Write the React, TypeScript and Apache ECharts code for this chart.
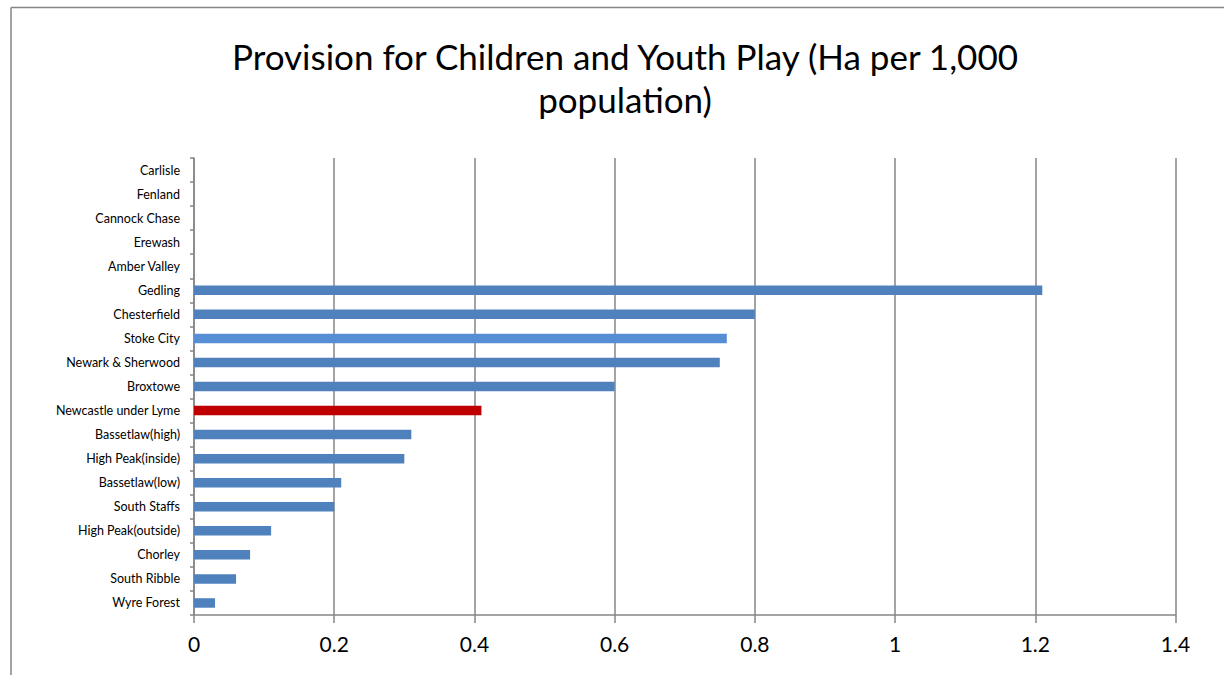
import React, { useEffect, useRef } from "react";
import * as echarts from "echarts";

const categories: string[] = [
  "Carlisle",
  "Fenland",
  "Cannock Chase",
  "Erewash",
  "Amber Valley",
  "Gedling",
  "Chesterfield",
  "Stoke City",
  "Newark & Sherwood",
  "Broxtowe",
  "Newcastle under Lyme",
  "Bassetlaw(high)",
  "High Peak(inside)",
  "Bassetlaw(low)",
  "South Staffs",
  "High Peak(outside)",
  "Chorley",
  "South Ribble",
  "Wyre Forest",
];

const values: number[] = [
  0, 0, 0, 0, 0, 1.21, 0.8, 0.76, 0.75, 0.6, 0.41, 0.31, 0.3, 0.21, 0.2, 0.11,
  0.08, 0.06, 0.03,
];

const highlightRed = "Newcastle under Lyme";
const highlightLight = "Stoke City";

const titleText = "Provision for Children and Youth Play (Ha per 1,000\npopulation)";

const FONT = "Lato, 'Open Sans', 'DejaVu Sans', sans-serif";
const GRAY = "#868686";

export default function App() {
  const ref = useRef<HTMLDivElement>(null);

  useEffect(() => {
    if (!ref.current) return;
    const chart = echarts.init(ref.current, undefined, { renderer: "svg" });
    const data = categories.map((c, i) => {
      let color = "#4F81BD";
      if (c === highlightRed) color = "#C00000";
      else if (c === highlightLight) color = "#558ED5";
      return { value: values[i], itemStyle: { color } };
    });
    chart.setOption({
      animation: false,
      backgroundColor: "#ffffff",
      textStyle: { fontFamily: FONT },
      title: {
        text: titleText,
        left: 620,
        textAlign: "center",
        top: 29,
        textStyle: {
          fontFamily: FONT,
          fontSize: 35,
          fontWeight: "normal",
          color: "#000000",
          lineHeight: 43,
        },
      },
      graphic: [
        {
          type: "line",
          shape: { x1: 11, y1: 7.5, x2: 1230, y2: 7.5 },
          style: { stroke: GRAY, lineWidth: 1.5 },
        },
        {
          type: "line",
          shape: { x1: 11, y1: 7.5, x2: 11, y2: 690 },
          style: { stroke: GRAY, lineWidth: 1.5 },
        },
      ],
      grid: { left: 194, right: 48.5, top: 158, bottom: 60, containLabel: false },
      xAxis: {
        type: "value",
        min: 0,
        max: 1.4,
        interval: 0.2,
        axisLine: { show: true, lineStyle: { color: GRAY, width: 1.5 } },
        axisTick: { show: true, length: 8, lineStyle: { color: GRAY, width: 1.5 } },
        splitLine: { show: true, lineStyle: { color: GRAY, width: 1.5 } },
        axisLabel: {
          color: "#000000",
          fontSize: 21,
          fontFamily: FONT,
          margin: 18,
          formatter: (v: number) => String(Math.round(v * 10) / 10),
        },
      },
      yAxis: {
        type: "category",
        data: categories,
        inverse: true,
        axisLine: { show: true, lineStyle: { color: GRAY, width: 1.5 } },
        axisTick: { show: true, length: 4, lineStyle: { color: GRAY, width: 1.5 } },
        splitLine: { show: false },
        axisLabel: {
          color: "#000000",
          fontSize: 12.5,
          fontFamily: FONT,
          margin: 14,
        },
      },
      series: [
        {
          type: "bar",
          data,
          barWidth: 9.5,
        },
      ],
    });
    return () => chart.dispose();
  }, []);

  return (
    <div
      ref={ref}
      style={{ position: "fixed", left: 0, top: 0, width: 1224, height: 675 }}
    />
  );
}
